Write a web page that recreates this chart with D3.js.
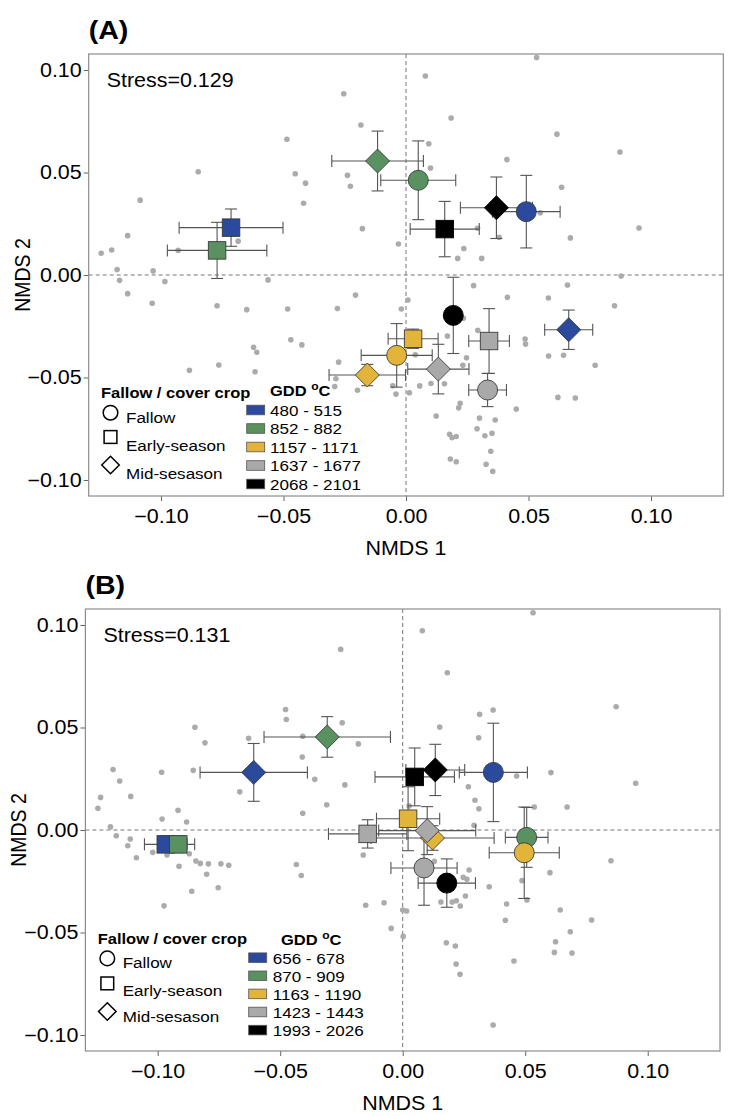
<!DOCTYPE html>
<html><head><meta charset="utf-8">
<script src="https://cdn.jsdelivr.net/npm/d3@7"></script>
<style>
body{margin:0;background:#fff}
svg{display:block}
text{font-family:"Liberation Sans",Arial,Helvetica,sans-serif;fill:#000}
</style>
</head><body>
<svg id="chart" width="750" height="1116"></svg>
<script>
// ---------------- DATA ----------------
const gddColors = ["#2b4a9e", "#5a9160", "#e2b43a", "#a9a9a9", "#000000"];
const gddLabelsA = ["480 - 515", "852 - 882", "1157 - 1171", "1637 - 1677", "2068 - 2101"];
const gddLabelsB = ["656 - 678", "870 - 909", "1163 - 1190", "1423 - 1443", "1993 - 2026"];
const shapeNames = ["circle", "square", "diamond"];
const shapeLabels = ["Fallow", "Early-season", "Mid-sesason"];
const xTicks = [-0.10, -0.05, 0.00, 0.05, 0.10];
const yTicks = [-0.10, -0.05, 0.00, 0.05, 0.10];
const stressA = "Stress=0.129";
const stressB = "Stress=0.131";

// group means: [shapeIndex, gddIndex, x, y, xErr, yErr]
const groupsA = [
  [0, 0, 0.0491, 0.0309, 0.0138, 0.0177],
  [0, 1, 0.0050, 0.0462, 0.0153, 0.0192],
  [0, 2, -0.0038, -0.0392, 0.0145, 0.0155],
  [0, 3, 0.0333, -0.0561, 0.0077, 0.0081],
  [0, 4, 0.0193, -0.0197, 0.0030, 0.0186],
  [1, 0, -0.0714, 0.0231, 0.0212, 0.0091],
  [1, 1, -0.0771, 0.0120, 0.0203, 0.0137],
  [1, 2, 0.0029, -0.0311, 0.0102, 0.0047],
  [1, 3, 0.0339, -0.0322, 0.0083, 0.0158],
  [1, 4, 0.0158, 0.0224, 0.0141, 0.0135],
  [2, 0, 0.0664, -0.0267, 0.0098, 0.0096],
  [2, 1, -0.0116, 0.0556, 0.0187, 0.0146],
  [2, 2, -0.0158, -0.0488, 0.0156, 0.0052],
  [2, 3, 0.0132, -0.0459, 0.0125, 0.0121],
  [2, 4, 0.0369, 0.0328, 0.0147, 0.0150]
];
const groupsB = [
  [0, 0, 0.0370, 0.0281, 0.0139, 0.0240],
  [0, 1, 0.0506, -0.0036, 0.0087, 0.0146],
  [0, 2, 0.0496, -0.0111, 0.0143, 0.0223],
  [0, 3, 0.0087, -0.0185, 0.0135, 0.0182],
  [0, 4, 0.0180, -0.0259, 0.0117, 0.0118],
  [1, 0, -0.0967, -0.0070, 0.0087, 0.0040],
  [1, 1, -0.0916, -0.0070, 0.0067, 0.0040],
  [1, 2, 0.0022, 0.0055, 0.0129, 0.0156],
  [1, 3, -0.0143, -0.0019, 0.0160, 0.0069],
  [1, 4, 0.0049, 0.0259, 0.0162, 0.0141],
  [2, 0, -0.0608, 0.0281, 0.0219, 0.0141],
  [2, 1, -0.0308, 0.0454, 0.0258, 0.0099],
  [2, 2, 0.0122, -0.0039, 0.0251, 0.0060],
  [2, 3, 0.0100, -0.0003, 0.0198, 0.0117],
  [2, 4, 0.0133, 0.0293, 0.0120, 0.0125]
];

// individual sample scores: [x, y]
const pointsA = [
  [0.0533,0.1061],[0.0079,0.0971],[-0.0254,0.0884],[0.0184,0.0766],[-0.0184,0.0732],[0.0616,0.0687],
  [-0.0486,0.0662],[0.0093,0.0640],[0.0873,0.0600],[0.0412,0.0563],[-0.0848,0.0504],[-0.0452,0.0494],
  [-0.0239,0.0486],[0.0100,0.0522],[-0.0410,0.0448],[-0.0227,0.0433],[0.0635,0.0428],[-0.1085,0.0365],
  [-0.0418,0.0350],[0.0548,0.0304],[-0.1136,0.0192],[-0.0178,0.0226],[0.0951,0.0229],[0.0292,0.0228],
  [0.0380,0.0184],[0.0671,0.0181],[-0.0685,0.0165],[-0.0930,0.0120],[-0.1201,0.0122],[-0.1244,0.0106],
  [-0.0031,0.0151],[0.0236,0.0129],[0.0211,0.0081],[0.0309,0.0081],[-0.1179,0.0027],[-0.1032,0.0020],
  [0.0878,-0.0005],[-0.1169,-0.0026],[-0.0984,-0.0032],[-0.0563,-0.0024],[0.0276,-0.0052],[0.0659,-0.0049],
  [-0.1136,-0.0091],[-0.0206,-0.0098],[-0.1036,-0.0138],[-0.0771,-0.0150],[0.0414,-0.0109],[0.0581,-0.0112],
  [0.0008,-0.0122],[-0.0650,-0.0169],[-0.0483,-0.0166],[-0.0280,-0.0164],[-0.0019,-0.0166],[0.0851,-0.0150],
  [0.0234,-0.0211],[0.0293,-0.0270],[0.0486,-0.0312],[0.0488,-0.0337],[0.0169,-0.0298],[-0.0470,-0.0316],
  [-0.0425,-0.0341],[-0.0622,-0.0353],[-0.0609,-0.0377],[0.0038,-0.0389],[0.0247,-0.0404],[0.0582,-0.0395],
  [0.0643,-0.0392],[0.0772,-0.0440],[-0.0275,-0.0425],[-0.0764,-0.0439],[-0.0884,-0.0465],[-0.0616,-0.0472],
  [0.0232,-0.0440],[-0.0286,-0.0506],[-0.0291,-0.0544],[-0.0198,-0.0562],[-0.0054,-0.0540],[0.0056,-0.0541],
  [0.0102,-0.0529],[0.0157,-0.0531],[0.0014,-0.0574],[-0.0041,-0.0581],[0.0221,-0.0626],[0.0215,-0.0648],
  [0.0450,-0.0654],[0.0620,-0.0597],[0.0691,-0.0600],[0.0123,-0.0688],[0.0300,-0.0698],[0.0364,-0.0707],
  [0.0290,-0.0750],[0.0178,-0.0777],[0.0205,-0.0788],[0.0188,-0.0794],[0.0322,-0.0784],[0.0351,-0.0772],
  [0.0346,-0.0860],[0.0181,-0.0898],[0.0205,-0.0911],[0.0327,-0.0923],[0.0354,-0.0958]
];
const pointsB = [
  [-0.0253,0.0881],[-0.0478,0.0588],[-0.0475,0.0539],[-0.0247,0.0523],[-0.0848,0.0501],[-0.0807,0.0425],
  [-0.0629,0.0447],[-0.0408,0.0457],[-0.0181,0.0420],[-0.0410,0.0356],[-0.1182,0.0295],[-0.0984,0.0282],
  [-0.0855,0.0291],[-0.1155,0.0239],[-0.0359,0.0247],[-0.1233,0.0159],[-0.0236,0.0220],[-0.1110,0.0164],
  [-0.0665,0.0186],[-0.1244,0.0106],[-0.0310,0.0123],[-0.0917,0.0096],[-0.0408,0.0082],[-0.0982,0.0054],
  [-0.0882,0.0039],[-0.1193,0.0015],[-0.1169,-0.0028],[-0.1112,-0.0044],[-0.1122,-0.0077],[-0.1087,-0.0135],
  [-0.1020,-0.0109],[-0.0962,-0.0122],[-0.0871,-0.0116],[-0.0844,-0.0151],[-0.0826,-0.0163],[-0.0793,-0.0165],
  [-0.0742,-0.0165],[-0.0710,-0.0172],[-0.0913,-0.0177],[-0.0800,-0.0216],[-0.0434,-0.0168],[-0.0414,-0.0222],
  [-0.0161,-0.0122],[-0.0753,-0.0282],[-0.0861,-0.0299],[-0.0974,-0.0370],[-0.0151,-0.0367],
  [0.0532,0.1060],[0.0080,0.0972],[0.0182,0.0767],[0.0871,0.0601],[0.0369,0.0585],[0.0314,0.0564],
  [0.0151,0.0502],[0.0310,0.0450],[0.0605,0.0280],[0.0465,0.0263],[0.0951,0.0228],[0.0268,0.0211],
  [0.0295,0.0145],[0.0311,0.0104],[0.0537,0.0112],[0.0671,0.0112],[0.0026,0.0117],[0.0291,0.0023],
  [0.0850,-0.0150],[0.0129,-0.0153],[0.0271,-0.0195],[0.0247,-0.0231],[0.0262,-0.0240],[0.0601,-0.0208],
  [0.0487,-0.0247],[0.0353,-0.0277],[0.0256,-0.0322],[0.0156,-0.0351],[0.0202,-0.0351],[0.0219,-0.0345],
  [0.0235,-0.0371],[0.0507,-0.0341],[-0.0076,-0.0355],[0.0000,-0.0390],[0.0016,-0.0395],[0.0643,-0.0390],
  [0.0424,-0.0361],[0.0419,-0.0440],[0.0771,-0.0439],[-0.0047,-0.0480],[0.0002,-0.0519],[0.0684,-0.0496],
  [0.0624,-0.0545],[0.0178,-0.0550],[0.0215,-0.0566],[0.0619,-0.0597],[0.0691,-0.0600],[0.0454,-0.0639],
  [0.0218,-0.0654],[0.0234,-0.0704],[0.0369,-0.0951]
];

// ---------------- DRAWING ----------------
const svg = d3.select("#chart");
svg.append("rect").attr("width", 750).attr("height", 1116).attr("fill", "#fff");

const xDomain = [-0.1295, 0.1295];
const yDomain = [-0.1078, 0.1078];
const SX = 1.1; // horizontal glyph stretch of the original figure

// stretch a text element horizontally about its anchor point
function stretch(sel) {
  sel.each(function () {
    const t = d3.select(this);
    const ax = +(t.attr("x") || 0);
    t.attr("transform", `translate(${ax},0) scale(${SX},1) translate(${-ax},0)`);
  });
  return sel;
}

function drawMarker(g, shape, cx, cy, fill, size, stroke, sw) {
  if (shape === "circle") {
    g.append("circle").attr("cx", cx).attr("cy", cy).attr("r", size)
      .attr("fill", fill).attr("stroke", stroke).attr("stroke-width", sw);
  } else if (shape === "square") {
    const s = size * 1.75;
    g.append("rect").attr("x", cx - s / 2).attr("y", cy - s / 2).attr("width", s).attr("height", s)
      .attr("fill", fill).attr("stroke", stroke).attr("stroke-width", sw);
  } else {
    const h = size * 1.2;
    g.append("path").attr("d", `M${cx},${cy - h}L${cx + h},${cy}L${cx},${cy + h}L${cx - h},${cy}Z`)
      .attr("fill", fill).attr("stroke", stroke).attr("stroke-width", sw);
  }
}

function panel(cfg) {
  const { left, top, width, height, groups, points, gddLabels, label, stress, lg } = cfg;
  const x = d3.scaleLinear().domain(xDomain).range([left, left + width]);
  const y = d3.scaleLinear().domain(yDomain).range([top + height, top]);
  const g = svg.append("g");

  // panel label
  stretch(g.append("text").attr("x", left).attr("y", top - 15)
    .attr("font-size", 26).attr("font-weight", "bold").text(label));

  // axes
  const fmt = d3.format(".2f");
  const ya = g.append("g").attr("transform", `translate(${left},0)`)
    .call(d3.axisLeft(y).tickValues(yTicks).tickFormat(fmt).tickSize(5).tickPadding(2));
  const xa = g.append("g").attr("transform", `translate(0,${top + height})`)
    .call(d3.axisBottom(x).tickValues(xTicks).tickFormat(fmt).tickSize(5).tickPadding(8));
  [ya, xa].forEach(a => {
    a.select(".domain").remove();
    a.selectAll(".tick line").attr("stroke", "#666");
    stretch(a.selectAll(".tick text").attr("font-size", 19.5)
      .attr("font-family", '"Liberation Sans",Arial,sans-serif').attr("fill", "#000"));
  });

  // axis titles
  stretch(g.append("text").attr("x", left + width / 2).attr("y", top + height + 59)
    .attr("text-anchor", "middle").attr("font-size", 19.5).text("NMDS 1"));
  g.append("text").attr("transform", `translate(${left - 59},${top + height / 2}) rotate(-90) scale(1,${SX})`)
    .attr("text-anchor", "middle").attr("font-size", 19.5).text("NMDS 2");

  // reference lines
  g.append("line").attr("x1", x(0)).attr("x2", x(0)).attr("y1", top).attr("y2", top + height)
    .attr("stroke", "#777").attr("stroke-dasharray", "4,3").attr("stroke-width", 1);
  g.append("line").attr("x1", left).attr("x2", left + width).attr("y1", y(0)).attr("y2", y(0))
    .attr("stroke", "#777").attr("stroke-dasharray", "4,3").attr("stroke-width", 1);

  // sample points
  g.append("g").selectAll("circle").data(points).join("circle")
    .attr("cx", d => x(d[0])).attr("cy", d => y(d[1])).attr("r", 2.8).attr("fill", "#ababab");

  // error bars
  const cap = 6;
  const eb = g.append("g").attr("stroke", "#555").attr("stroke-width", 1.1).attr("fill", "none");
  groups.forEach(d => {
    const cx = x(d[2]), cy = y(d[3]);
    const x0 = x(d[2] - d[4]), x1 = x(d[2] + d[4]);
    const y0 = y(d[3] - d[5]), y1 = y(d[3] + d[5]);
    eb.append("line").attr("x1", x0).attr("x2", x1).attr("y1", cy).attr("y2", cy);
    eb.append("line").attr("x1", x0).attr("x2", x0).attr("y1", cy - cap).attr("y2", cy + cap);
    eb.append("line").attr("x1", x1).attr("x2", x1).attr("y1", cy - cap).attr("y2", cy + cap);
    eb.append("line").attr("x1", cx).attr("x2", cx).attr("y1", y0).attr("y2", y1);
    eb.append("line").attr("x1", cx - cap).attr("x2", cx + cap).attr("y1", y0).attr("y2", y0);
    eb.append("line").attr("x1", cx - cap).attr("x2", cx + cap).attr("y1", y1).attr("y2", y1);
  });

  // group markers
  const mk = g.append("g");
  groups.forEach(d => {
    const col = gddColors[d[1]];
    drawMarker(mk, shapeNames[d[0]], x(d[2]), y(d[3]), col, 10,
      d[1] === 4 ? "#000" : "#3a3a3a", 0.9);
  });

  // frame
  g.append("rect").attr("x", left).attr("y", top).attr("width", width).attr("height", height)
    .attr("fill", "none").attr("stroke", "#8c8c8c").attr("stroke-width", 1.2);

  // stress
  stretch(g.append("text").attr("x", left + lg.stressDx).attr("y", top + lg.stressDy)
    .attr("font-size", 19.5).text(stress));

  // legend: shapes
  const L = g.append("g");
  stretch(L.append("text").attr("x", lg.sx).attr("y", lg.sTitleY).attr("font-size", 15)
    .attr("font-weight", "bold").text("Fallow / cover crop"));
  shapeLabels.forEach((t, i) => {
    const cy = lg.symY[i];
    drawMarker(L, shapeNames[i], lg.symX, cy, "#fff", 7.3, "#000", 1.5);
    stretch(L.append("text").attr("x", lg.symTextX).attr("y", lg.symTextY[i]).attr("font-size", 15.5).text(t));
  });

  // legend: GDD
  const tt = L.append("text").attr("x", lg.gTitleX).attr("y", lg.gTitleY)
    .attr("font-size", 15).attr("font-weight", "bold");
  tt.append("tspan").text("GDD ");
  tt.append("tspan").attr("font-size", 11).attr("dy", -6).text("o");
  tt.append("tspan").attr("dy", 6).text("C");
  stretch(tt);
  gddLabels.forEach((t, i) => {
    const cy = lg.swY0 + i * lg.swStep;
    L.append("rect").attr("x", lg.swX).attr("y", cy - 4.8).attr("width", 18).attr("height", 9.6)
      .attr("fill", gddColors[i]).attr("stroke", "#555").attr("stroke-width", 0.8);
    stretch(L.append("text").attr("x", lg.gTextX).attr("y", cy + 6).attr("font-size", 15.5).text(t));
  });
}

panel({
  left: 88.7, top: 54, width: 634.6, height: 442,
  groups: groupsA, points: pointsA, gddLabels: gddLabelsA, label: "(A)", stress: stressA,
  lg: {
    stressDx: 18, stressDy: 33,
    sx: 101, sTitleY: 398,
    symX: 110.5, symY: [412.7, 437, 465], symTextX: 126, symTextY: [423, 451, 479],
    gTitleX: 270, gTitleY: 396,
    swX: 246.7, swY0: 410, swStep: 18.5, gTextX: 270
  }
});

panel({
  left: 85.4, top: 609, width: 634.6, height: 442,
  groups: groupsB, points: pointsB, gddLabels: gddLabelsB, label: "(B)", stress: stressB,
  lg: {
    stressDx: 18, stressDy: 33,
    sx: 97.7, sTitleY: 944,
    symX: 107.3, symY: [958.4, 983.4, 1011.5], symTextX: 122.7, symTextY: [968, 996, 1022],
    gTitleX: 281, gTitleY: 945,
    swX: 248.7, swY0: 957.7, swStep: 18.1, gTextX: 272.7
  }
});
</script>
</body></html>
